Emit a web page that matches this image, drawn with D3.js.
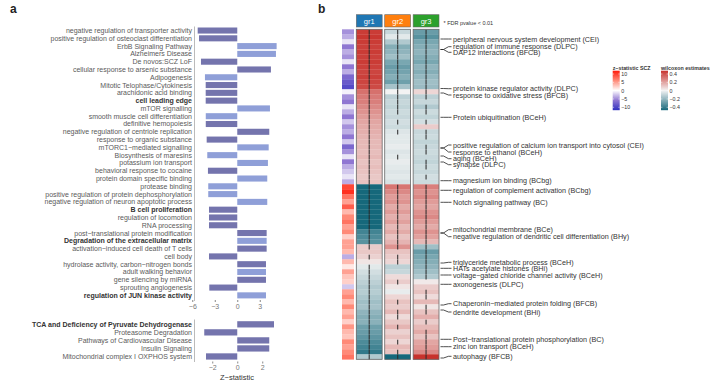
<!DOCTYPE html>
<html>
<head>
<meta charset="utf-8">
<script src="https://cdn.jsdelivr.net/npm/d3@7"></script>
<style>
  body { margin: 0; background: #fff; }
  svg { font-family: "Liberation Sans", Arial, sans-serif; }
</style>
</head>
<body>
<div id="chart"></div>
<script>
// ---- panel a: enriched terms, z-statistic ----
const termsUpper = [
  "negative regulation of transporter activity", "positive regulation of osteoclast differentiation",
  "ErbB Signaling Pathway", "Alzheimers Disease", "De novos:SCZ LoF", "cellular response to arsenic substance",
  "Adipogenesis", "Mitotic Telophase/Cytokinesis", "arachidonic acid binding", "cell leading edge",
  "mTOR signalling", "smooth muscle cell differentiation", "definitive hemopoiesis",
  "negative regulation of centriole replication", "response to organic substance", "mTORC1\u2212mediated signalling",
  "Biosynthesis of maresins", "potassium ion transport", "behavioral response to cocaine",
  "protein domain specific binding", "protease binding", "positive regulation of protein dephosphorylation",
  "negative regulation of neuron apoptotic process", "B cell proliferation", "regulation of locomotion",
  "RNA processing", "post\u2212translational protein modification", "Degradation of the extracellular matrix",
  "activation\u2212induced cell death of T cells", "cell body", "hydrolase activity, carbon\u2212nitrogen bonds",
  "adult walking behavior", "gene silencing by miRNA", "sprouting angiogenesis", "regulation of JUN kinase activity"
];
const zUpper = [-5.28, -5.1, 5.25, 5.16, -4.84, 4.49, -4.31, -4.21, -4.21, -4.21, 4.36, -4.2, -4.2,
  4.27, -4.08, 4.19, -4.0, 4.09, -3.91, 4.0, -3.87, -3.87, 4.0, -3.77, -3.77, -3.77, 3.92, 3.92,
  3.92, -3.77, 3.83, 3.83, 3.83, -3.73, 3.83];
// 1 = dark bar, 2 = light bar
const setUpper = [1, 1, 2, 2, 1, 1, 2, 1, 1, 1, 2, 2, 1, 1, 1, 2, 2, 2, 1, 2, 2, 2, 2, 1, 1, 1, 1, 2,
  1, 1, 1, 2, 1, 1, 2];
const boldTerms = ["cell leading edge", "B cell proliferation", "Degradation of the extracellular matrix",
  "regulation of JUN kinase activity", "TCA and Deficiency of Pyruvate Dehydrogenase"];
const ticksUpper = [-6, -3, 0, 3];

const termsLower = ["TCA and Deficiency of Pyruvate Dehydrogenase", "Proteasome Degradation",
  "Pathways of Cardiovascular Disease", "Insulin Signaling", "Mitochondrial complex I OXPHOS system"];
const zLower = [2.94, -2.64, 2.56, 2.56, -2.5];
const ticksLower = [-2, 0, 2];

// ---- panel b: heatmap rows (top to bottom) ----
const sczZ = [-4, -3, -1, -5, -3, -4, -1, -5, -3, -6, -7, -8, -0.5, -4, -5, -1, -3, -5, -2, -4, -3, -5,
  -2, -6, -4, -1, -5, -3, -2, -1, -3,
  8, 9, 6, 4, 7, 3, 5, 6, 4, 5, 2, 4,
  4, 3, -3, 3, 1, 4, 2.5, 2, -2, 4, 5, 3, 5, 3, 4, 2, 4.5, 3, 2.5, 5, 4, 5, 6];
const gr1Est = [0.38, 0.39, 0.38, 0.37, 0.38, 0.37, 0.38, 0.37, 0.36, 0.37, 0.36, 0.35,
  0.27, 0.25, 0.24, 0.22, 0.2, 0.18, 0.16, 0.15,
  0.14, 0.13, 0.12, 0.12, 0.11, 0.12, 0.1, 0.11, 0.1, 0.09, 0.1,
  -0.44, -0.45, -0.44, -0.45, -0.44, -0.43, -0.44, -0.42, -0.4, -0.32, -0.3, -0.28,
  0.08, 0.09, 0.07, 0.03,
  -0.03, -0.06, -0.08, -0.1, -0.12, -0.11, -0.13, -0.15, -0.14, -0.18, -0.2, -0.19, -0.24, -0.25,
  -0.27, -0.3, -0.32, -0.35, -0.12];
const gr2Est = [-0.08, -0.03, -0.12, -0.2, -0.18, -0.15, -0.22, -0.25, -0.23, -0.2, -0.24, -0.14,
  0.0, -0.1, -0.08, -0.09, -0.07, -0.08, -0.06, -0.07,
  -0.04, -0.03, -0.03, -0.02, -0.04, -0.03, -0.02, -0.03, -0.04, -0.03, -0.05,
  0.26, 0.22, 0.18, 0.2, 0.15, 0.18, 0.14, 0.17, 0.12, 0.15, 0.1, 0.13,
  0.2, 0.1, 0.08, 0.06,
  -0.1, -0.08, 0.05, 0.08, 0.03, -0.02, 0.06, 0.1, 0.08, 0.12, 0.05, 0.09, 0.13, 0.07, 0.1, 0.06,
  0.12, 0.1, -0.45];
const gr3Est = [-0.25, -0.28, -0.22, -0.2, -0.18, -0.2, -0.22, -0.18, -0.2, -0.17, -0.15, -0.16,
  0.06, -0.1, -0.08, -0.12, -0.07, -0.09, -0.06, 0.08,
  -0.08, -0.07, -0.09, -0.08, -0.07, -0.08, -0.09, -0.07, -0.08, -0.06, -0.07,
  0.24, 0.2, 0.22, 0.18, 0.16, 0.2, 0.22, 0.18, 0.15, 0.2, 0.17, 0.12,
  -0.15, -0.25, -0.22, -0.2, -0.18, -0.15, -0.12, 0.02,
  0.08, 0.1, 0.05, 0.12, 0.03, 0.1, 0.14, 0.08, 0.12, 0.15, 0.1, 0.16, 0.18, 0.22, 0.42];
// FDR < 0.01 flags, one char per row
const gr1Sig = "1111111111" + "1111111111" + "1111111111" + "1111111111" + "1111010111" + "1111111111" + "111111";
const gr2Sig = "1111111111" + "1111111010" + "1000010000" + "0111111111" + "1111011000" + "1000101101" + "001011";
const gr3Sig = "1111111111" + "1111011010" + "1101101101" + "0111111111" + "1111111111" + "0011011010" + "111111";
const groups = ["gr1", "gr2", "gr3"];
const groupColors = ["#1f77b4", "#ff7f0e", "#2ca02c"];

// annotated terms: label slot and target row (in row units)
const annoTerms = [
  "peripheral nervous system development (CEI)", "regulation of immune response (DLPC)",
  "DAP12 interactions (BFCB)", "protein kinase regulator activity (DLPC)",
  "response to oxidative stress (BFCB)", "Protein ubiquitination (BCeH)",
  "positive regulation of calcium ion transport into cytosol (CEI)", "response to ethanol (BCeH)",
  "aging (BCeH)", "synapse (DLPC)", "magnesium ion binding (BCbg)",
  "regulation of complement activation (BCbg)", "Notch signaling pathway (BC)",
  "mitochondrial membrane (BCe)", "negative regulation of dendritic cell differentiation (BHy)",
  "triglyceride metabolic process (BCeH)", "HATs acetylate histones (BHi)",
  "voltage\u2212gated chloride channel activity (BCeH)", "axonogenesis (DLPC)",
  "Chaperonin\u2212mediated protein folding (BFCB)", "dendrite development (BHi)",
  "Post\u2212translational protein phosphorylation (BC)", "zinc ion transport (BCeH)", "autophagy (BFCB)"
];
const annoSlot = [1.94, 3.48, 4.6, 11.88, 13.14, 17.6, 23.14, 24.54, 25.88, 27.08, 30.28, 32.2, 34.6,
  40.08, 41.48, 46.6, 47.8, 49.14, 51, 54.88, 56.54, 62, 63.48, 65.4];
const annoRow = [1.94, 4.04, 4.04, 11.84, 12.74, 17.6, 23.74, 23.74, 25.34, 26.54, 30.28, 32.2, 34.6,
  40.74, 40.74, 46.74, 47.8, 49.14, 51, 55.14, 56.14, 62, 63.48, 65.74];

const zLegendBreaks = [10, 5, 0, -5, -10];
const estLegendBreaks = [0.4, 0.2, 0, -0.2, -0.4];

const width = 720, height = 382;
const svg = d3.select("#chart").append("svg")
  .attr("width", width)
  .attr("height", height);

const darkBar = "#7474ad", lightBar = "#8f9fd8";
const labelColor = "#5a5a5a";

svg.append("text").attr("x", 10).attr("y", 12.5)
  .attr("font-size", 12).attr("font-weight", "bold").attr("fill", "#222").text("a");
svg.append("text").attr("x", 318).attr("y", 12.5)
  .attr("font-size", 12).attr("font-weight", "bold").attr("fill", "#222").text("b");

// upper bar panel
const xUp = d3.scaleLinear().domain([-5.77, 5.5]).range([194, 278.5]);
const yUp = d3.scaleBand().domain(d3.range(termsUpper.length)).range([27.5, 298.4]).paddingInner(0.22);

svg.append("g")
  .selectAll("rect")
  .data(zUpper)
  .enter()
  .append("rect")
  .attr("x", d => xUp(Math.min(0, d)))
  .attr("y", (d, i) => yUp(i))
  .attr("width", d => Math.abs(xUp(d) - xUp(0)))
  .attr("height", yUp.bandwidth())
  .attr("fill", (d, i) => setUpper[i] === 1 ? darkBar : lightBar);

svg.append("g")
  .selectAll("text")
  .data(termsUpper)
  .enter()
  .append("text")
  .attr("x", 192)
  .attr("y", (d, i) => yUp(i) + yUp.bandwidth() / 2)
  .attr("dy", ".35em")
  .attr("text-anchor", "end")
  .attr("font-size", 7)
  .attr("font-weight", d => boldTerms.includes(d) ? "bold" : "normal")
  .attr("fill", d => boldTerms.includes(d) ? "#333" : labelColor)
  .text(d => d);

svg.append("line").attr("x1", 194.5).attr("x2", 194.5).attr("y1", 26.5).attr("y2", 301)
  .attr("stroke", "#aaa").attr("stroke-width", 0.8);

const axUp = svg.append("g")
  .attr("transform", "translate(0,300)")
  .call(d3.axisBottom(xUp).tickValues(ticksUpper).tickSize(2).tickPadding(2)
    .tickFormat(d => d < 0 ? "\u2212" + Math.abs(d) : d));
axUp.select(".domain").remove();
axUp.selectAll("line").attr("stroke", "#888");
axUp.selectAll("text").attr("font-size", 7).attr("fill", "#777").attr("font-family", null);

// lower bar panel
const xLow = d3.scaleLinear().domain([-3.46, 3.3]).range([194, 278.5]);
const yLow = d3.scaleBand().domain(d3.range(termsLower.length)).range([321.2, 359.6]).paddingInner(0.22);

svg.append("g")
  .selectAll("rect")
  .data(zLower)
  .enter()
  .append("rect")
  .attr("x", d => xLow(Math.min(0, d)))
  .attr("y", (d, i) => yLow(i))
  .attr("width", d => Math.abs(xLow(d) - xLow(0)))
  .attr("height", yLow.bandwidth())
  .attr("fill", darkBar);

svg.append("g")
  .selectAll("text")
  .data(termsLower)
  .enter()
  .append("text")
  .attr("x", 192)
  .attr("y", (d, i) => yLow(i) + yLow.bandwidth() / 2)
  .attr("dy", ".35em")
  .attr("text-anchor", "end")
  .attr("font-size", 7)
  .attr("font-weight", d => boldTerms.includes(d) ? "bold" : "normal")
  .attr("fill", d => boldTerms.includes(d) ? "#333" : labelColor)
  .text(d => d);

svg.append("line").attr("x1", 194.5).attr("x2", 194.5).attr("y1", 319.5).attr("y2", 362)
  .attr("stroke", "#aaa").attr("stroke-width", 0.8);

const axLow = svg.append("g")
  .attr("transform", "translate(0,361.5)")
  .call(d3.axisBottom(xLow).tickValues(ticksLower).tickSize(2).tickPadding(2)
    .tickFormat(d => d < 0 ? "\u2212" + Math.abs(d) : d));
axLow.select(".domain").remove();
axLow.selectAll("line").attr("stroke", "#888");
axLow.selectAll("text").attr("font-size", 7).attr("fill", "#777").attr("font-family", null);

svg.append("text").attr("x", 237).attr("y", 380).attr("text-anchor", "middle")
  .attr("font-size", 7.5).attr("fill", "#333").text("Z\u2212statistic");

// ---- heatmap ----
const zColor = d3.scaleLinear().domain([-10, -5, 0, 5, 10])
  .range(["#2f2fbf", "#8f76d2", "#ffffff", "#ff8a78", "#ff1a0a"]).clamp(true);
const estColor = d3.scaleLinear().domain([-0.4, 0, 0.4])
  .range(["#16687b", "#f3f3f3", "#c8322c"]).clamp(true);

const nRows = sczZ.length;
const yRow = d3.scaleBand().domain(d3.range(nRows)).range([29.3, 359.3]);
const rowPos = d3.scaleLinear().domain([0, nRows]).range([29.3, 359.3]);
const xGroup = d3.scaleBand().domain(groups).range([356.3, 439]).paddingInner(0.09);

// side annotation column
svg.append("g")
  .selectAll("rect")
  .data(sczZ)
  .enter()
  .append("rect")
  .attr("x", 342)
  .attr("y", (d, i) => yRow(i))
  .attr("width", 12)
  .attr("height", yRow.bandwidth() + 0.3)
  .attr("fill", d => zColor(d));

const groupData = [
  { key: "gr1", est: gr1Est, sig: gr1Sig },
  { key: "gr2", est: gr2Est, sig: gr2Sig },
  { key: "gr3", est: gr3Est, sig: gr3Sig }
];

groupData.forEach((g, gi) => {
  const gx = xGroup(g.key), bw = xGroup.bandwidth();
  const col = svg.append("g");

  col.selectAll("rect.cell")
    .data(g.est)
    .enter()
    .append("rect")
    .attr("class", "cell")
    .attr("x", gx)
    .attr("y", (d, i) => yRow(i))
    .attr("width", bw)
    .attr("height", yRow.bandwidth() + 0.3)
    .attr("fill", d => estColor(d));

  // significance stars
  col.selectAll("rect.star")
    .data(g.sig.split("").map((s, i) => ({ s, i })).filter(d => d.s === "1"))
    .enter()
    .append("rect")
    .attr("class", "star")
    .attr("x", gx + bw / 2 - 0.6)
    .attr("y", d => yRow(d.i) + 0.4)
    .attr("width", 1.2)
    .attr("height", yRow.bandwidth() - 0.2)
    .attr("fill", "#2a2a2a")
    .attr("opacity", 0.85);

  col.append("rect")
    .attr("x", gx).attr("y", 29.3)
    .attr("width", bw).attr("height", 330)
    .attr("fill", "none").attr("stroke", "#666").attr("stroke-width", 0.8);

  // header box
  col.append("rect")
    .attr("x", gx).attr("y", 14.7)
    .attr("width", bw).attr("height", 12.3)
    .attr("fill", groupColors[gi]).attr("stroke", "#666").attr("stroke-width", 0.6);
  col.append("text")
    .attr("x", gx + bw / 2).attr("y", 20.9).attr("dy", ".35em")
    .attr("text-anchor", "middle").attr("font-size", 7.5).attr("fill", "#fff")
    .text(g.key);
});

svg.append("text").attr("x", 443.5).attr("y", 23.5).attr("dy", ".35em")
  .attr("font-size", 5.5).attr("fill", "#333").text("*  FDR pvalue < 0.01");

// annotation connectors + labels
const connector = d3.line();
svg.append("g")
  .selectAll("path")
  .data(annoTerms)
  .enter()
  .append("path")
  .attr("d", (d, i) => {
    const ty = rowPos(annoRow[i]), ly = rowPos(annoSlot[i]);
    return connector([[440.5, ty], [443.5, ty], [448.5, ly], [451.5, ly]]);
  })
  .attr("fill", "none")
  .attr("stroke", "#222")
  .attr("stroke-width", 0.8);

svg.append("g")
  .selectAll("text")
  .data(annoTerms)
  .enter()
  .append("text")
  .attr("x", 453)
  .attr("y", (d, i) => rowPos(annoSlot[i]))
  .attr("dy", ".35em")
  .attr("font-size", 7.2)
  .attr("fill", "#333")
  .text(d => d);

// ---- legends ----
function colorLegend(x, title, breaks, scale, fmt) {
  const lg = svg.append("g");
  const yL = d3.scaleLinear().domain([breaks[0], breaks[breaks.length - 1]]).range([74, 107.3]);
  const id = "grad-" + title.replace(/\W/g, "");
  const grad = svg.append("defs").append("linearGradient")
    .attr("id", id).attr("x1", 0).attr("x2", 0).attr("y1", 0).attr("y2", 1);
  d3.range(0, 1.0001, 0.05).forEach(t => {
    const v = breaks[0] + t * (breaks[breaks.length - 1] - breaks[0]);
    grad.append("stop").attr("offset", t).attr("stop-color", scale(v));
  });
  lg.append("text").attr("x", x).attr("y", 68).attr("dy", ".35em")
    .attr("font-size", 5.3).attr("font-weight", "bold").attr("fill", "#333").text(title);
  lg.append("rect").attr("x", x).attr("y", 70.7).attr("width", 7).attr("height", 39.5)
    .attr("fill", `url(#${id})`);
  lg.selectAll("line")
    .data(breaks)
    .enter()
    .append("line")
    .attr("x1", x).attr("x2", x + 7)
    .attr("y1", d => yL(d)).attr("y2", d => yL(d))
    .attr("stroke", "#fff").attr("stroke-width", 0.5).attr("stroke-dasharray", "1.4,4.2");
  lg.selectAll("text.lab")
    .data(breaks)
    .enter()
    .append("text")
    .attr("class", "lab")
    .attr("x", x + 8.5)
    .attr("y", d => yL(d))
    .attr("dy", ".35em")
    .attr("font-size", 5.3)
    .attr("fill", "#333")
    .text(fmt);
}
colorLegend(612.7, "z\u2212statistic SCZ", zLegendBreaks, zColor, d => d < 0 ? "\u2212" + Math.abs(d) : d);
colorLegend(661, "wilcoxon estimates", estLegendBreaks, estColor, d => d < 0 ? "\u2212" + Math.abs(d) : d);
</script>
</body>
</html>
